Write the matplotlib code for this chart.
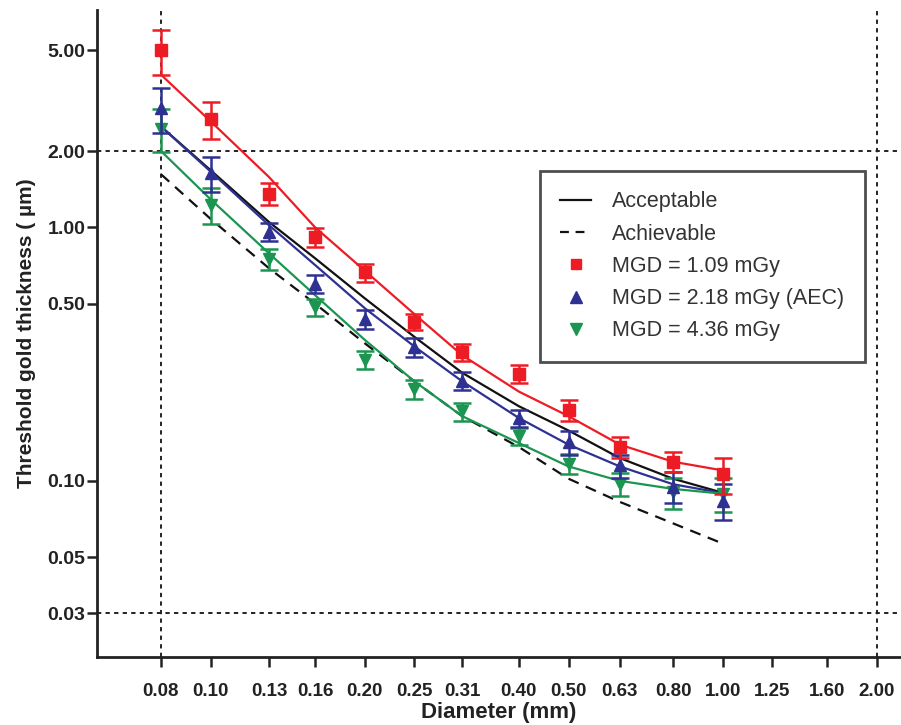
import numpy as np
import matplotlib
matplotlib.use("Agg")
import matplotlib.pyplot as plt
from matplotlib.lines import Line2D

plt.rcParams['font.family'] = ['Liberation Sans', 'DejaVu Sans']

# diameters (mm) of the disc sizes
diam = [0.08, 0.10, 0.13, 0.16, 0.20, 0.25, 0.31, 0.40, 0.50, 0.63, 0.80, 1.00]
xticks = [0.08, 0.10, 0.13, 0.16, 0.20, 0.25, 0.31, 0.40, 0.50, 0.63, 0.80, 1.00, 1.25, 1.60, 2.00]
yticks = [0.03, 0.05, 0.10, 0.50, 1.00, 2.00, 5.00]

# measured threshold thickness (um) and sd
red_y = [5.00, 2.67, 1.36, 0.915, 0.665, 0.425, 0.322, 0.265, 0.190, 0.136, 0.119, 0.106]
red_err = [1.00, 0.44, 0.14, 0.075, 0.055, 0.030, 0.025, 0.022, 0.018, 0.013, 0.011, 0.017]
blue_y = [2.95, 1.64, 0.96, 0.600, 0.434, 0.337, 0.248, 0.177, 0.142, 0.115, 0.095, 0.0835]
blue_err = [0.60, 0.26, 0.08, 0.047, 0.037, 0.028, 0.020, 0.014, 0.015, 0.012, 0.013, 0.0135]
green_y = [2.45, 1.23, 0.75, 0.485, 0.300, 0.230, 0.188, 0.150, 0.117, 0.097, 0.090, 0.089]
green_err = [0.47, 0.20, 0.07, 0.037, 0.024, 0.020, 0.015, 0.012, 0.011, 0.010, 0.0125, 0.0135]

# fitted curves
red_fit = [4.00, 2.62, 1.58, 1.00, 0.675, 0.455, 0.313, 0.225, 0.180, 0.139, 0.119, 0.110]
blue_fit = [2.50, 1.66, 1.02, 0.710, 0.480, 0.339, 0.247, 0.177, 0.139, 0.114, 0.097, 0.0895]
green_fit = [2.00, 1.29, 0.79, 0.540, 0.360, 0.247, 0.180, 0.141, 0.114, 0.100, 0.093, 0.089]
acceptable = [2.50, 1.68, 1.05, 0.755, 0.525, 0.370, 0.267, 0.197, 0.158, 0.123, 0.102, 0.0898]
achievable = [1.62, 1.08, 0.69, 0.500, 0.349, 0.247, 0.180, 0.136, 0.102, 0.0826, 0.068, 0.0566]

RED = '#ED1C24'
BLUE = '#2E3192'
GREEN = '#1B9550'
INK = '#222222'

fig = plt.figure(figsize=(9.01, 7.25), dpi=100)
ax = fig.add_axes([97/901, 68/725, 1 - 97/901, 647/725])
ax.set_xscale('log')
ax.set_yscale('log')
ax.set_xlim(0.06, 2.23)
ax.set_ylim(0.0202, 7.2)

# reference lines
for xv in (0.08, 2.00):
    ax.axvline(xv, color=INK, lw=1.4, ls=(0, (2.2, 2.2)), zorder=1)
for yv in (2.00, 0.03):
    ax.axhline(yv, color=INK, lw=1.4, ls=(0, (2.2, 2.2)), zorder=1)

ax.plot(diam, acceptable, color='#111111', lw=1.6, zorder=3)
ax.plot(diam, achievable, color='#111111', lw=1.6, ls=(0, (5, 3.5)), zorder=3)
ax.plot(diam, red_fit, color=RED, lw=1.6, zorder=3)
ax.plot(diam, blue_fit, color=BLUE, lw=1.6, zorder=3)
ax.plot(diam, green_fit, color=GREEN, lw=1.6, zorder=3)

ax.errorbar(diam, green_y, yerr=green_err, fmt='v', color=GREEN, ms=9,
            capsize=6.5, elinewidth=1.8, capthick=1.8, zorder=4)
ax.errorbar(diam, blue_y, yerr=blue_err, fmt='^', color=BLUE, ms=9,
            capsize=6.5, elinewidth=1.8, capthick=1.8, zorder=5)
ax.errorbar(diam, red_y, yerr=red_err, fmt='s', color=RED, ms=8,
            capsize=6.5, elinewidth=1.8, capthick=1.8, zorder=6)

ax.set_xticks(xticks)
ax.set_xticklabels(['%.2f' % v for v in xticks])
ax.set_yticks(yticks)
ax.set_yticklabels(['%.2f' % v for v in yticks])
ax.minorticks_off()
ax.tick_params(axis='both', direction='out', length=7.5, width=1.8, color=INK)
ax.tick_params(axis='x', labelsize=13.5, pad=11)
ax.tick_params(axis='y', labelsize=14, pad=1)
for lab in ax.get_xticklabels() + ax.get_yticklabels():
    lab.set_fontweight('bold')
    lab.set_color(INK)

for side in ('top', 'right'):
    ax.spines[side].set_visible(False)
for side in ('left', 'bottom'):
    ax.spines[side].set_linewidth(2)
    ax.spines[side].set_color(INK)

ax.set_xlabel('Diameter (mm)', fontsize=16, fontweight='bold', color=INK, labelpad=2)
ax.set_ylabel('Threshold gold thickness ( \u00b5m)', fontsize=15, fontweight='bold',
              color=INK, labelpad=8)

handles = [
    Line2D([], [], color='#111111', lw=1.6),
    Line2D([], [], color='#111111', lw=1.6, ls=(0, (4, 3))),
    Line2D([], [], color=RED, marker='s', ls='none', ms=7),
    Line2D([], [], color=BLUE, marker='^', ls='none', ms=8),
    Line2D([], [], color=GREEN, marker='v', ls='none', ms=8),
]
labels = ['Acceptable', 'Achievable', 'MGD = 1.09 mGy', 'MGD = 2.18 mGy (AEC)', 'MGD = 4.36 mGy']
leg = fig.legend(handles, labels, loc='upper left', bbox_to_anchor=(540/901, 1 - 171/725),
                 fontsize=15.5, frameon=True, fancybox=False, handlelength=1.4,
                 handletextpad=1.0, labelspacing=0.52, borderpad=0.95, borderaxespad=0)
leg.get_frame().set_edgecolor(INK)
leg.get_frame().set_linewidth(2)
for t in leg.get_texts():
    t.set_color('#333333')

fig.savefig('out.png', dpi=100)
